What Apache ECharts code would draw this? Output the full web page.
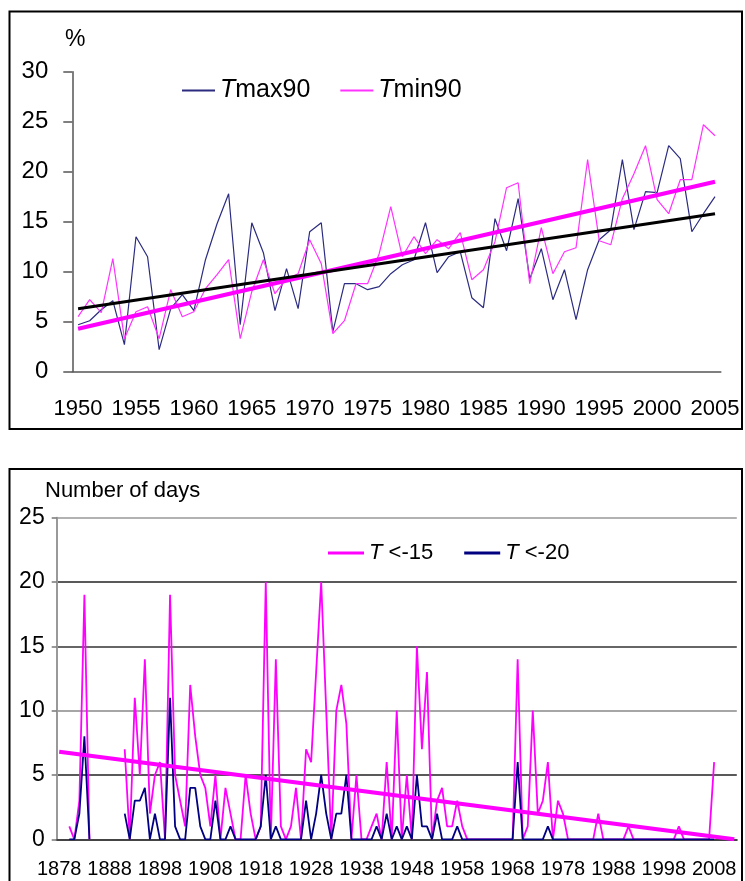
<!DOCTYPE html>
<html><head><meta charset="utf-8">
<script src="https://cdn.jsdelivr.net/npm/echarts@6/dist/echarts.min.js"></script>
<style>html,body{margin:0;padding:0;background:#fff}#c{width:745px;height:881px}</style>
</head><body><div id="c"></div>
<script>
// ---------- Top chart data ----------
const yearsTop = ['1950','1951','1952','1953','1954','1955','1956','1957','1958','1959',
  '1960','1961','1962','1963','1964','1965','1966','1967','1968','1969',
  '1970','1971','1972','1973','1974','1975','1976','1977','1978','1979',
  '1980','1981','1982','1983','1984','1985','1986','1987','1988','1989',
  '1990','1991','1992','1993','1994','1995','1996','1997','1998','1999',
  '2000','2001','2002','2003','2004','2005'];
const tmax90 = [4.7,5.1,6.2,7.1,2.7,13.5,11.5,2.2,6.3,7.7,
  6.1,11.2,14.8,17.8,4.7,14.9,11.9,6.1,10.3,6.3,
  14.0,14.9,4.0,8.8,8.8,8.2,8.5,9.8,10.7,11.2,
  14.9,9.9,11.5,12.0,7.4,6.4,15.3,12.1,17.3,9.3,
  12.3,7.2,10.2,5.2,10.2,13.2,14.2,21.2,14.2,18.0,
  17.9,22.6,21.3,14.0,15.8,17.5];
const tmin90 = [5.5,7.2,5.9,11.3,3.3,6.0,6.5,3.3,8.2,5.5,
  6.0,8.3,9.7,11.2,3.3,8.0,11.2,7.8,9.3,9.8,
  13.2,10.8,3.8,5.1,8.8,8.8,11.8,16.5,11.5,13.5,
  11.8,13.2,12.3,13.9,9.2,10.2,13.0,18.4,18.9,8.8,
  14.4,9.8,12.0,12.4,21.2,13.1,12.7,17.3,19.8,22.6,
  17.2,15.8,19.2,19.2,24.7,23.6];
const trendYearsTop = ['1950','2005'];
const trendTmax = [6.3, 15.8];
const trendTmin = [4.3, 19.0];
const topTickLabels = ['1950','1955','1960','1965','1970','1975','1980','1985','1990','1995','2000','2005'];

// ---------- Bottom chart data ----------
const yearsBottom = ['1878','1879','1880','1881','1882','1883','1884','1885','1886','1887',
  '1888','1889','1890','1891','1892','1893','1894','1895','1896','1897',
  '1898','1899','1900','1901','1902','1903','1904','1905','1906','1907',
  '1908','1909','1910','1911','1912','1913','1914','1915','1916','1917',
  '1918','1919','1920','1921','1922','1923','1924','1925','1926','1927',
  '1928','1929','1930','1931','1932','1933','1934','1935','1936','1937',
  '1938','1939','1940','1941','1942','1943','1944','1945','1946','1947',
  '1948','1949','1950','1951','1952','1953','1954','1955','1956','1957',
  '1958','1959','1960','1961','1962','1963','1964','1965','1966','1967',
  '1968','1969','1970','1971','1972','1973','1974','1975','1976','1977',
  '1978','1979','1980','1981','1982','1983','1984','1985','1986','1987',
  '1988','1989','1990','1991','1992','1993','1994','1995','1996','1997',
  '1998','1999','2000','2001','2002','2003','2004','2005','2006','2007',
  '2008','2009','2010','2011','2012'];
const daysBelow15 = [null,null,1,0,3,19,0,null,null,null,
  null,null,null,7,0,11,5,14,2,5,
  6,0,19,5,3,1,12,8,5,4,
  1,5,0,4,2,0,0,5,2,0,
  1,20,0,14,1,0,1,4,0,7,
  6,13,20,10,0,10,12,9,0,5,
  0,0,1,2,0,6,0,10,0,5,
  0,15,7,13,0,3,4,1,1,3,
  1,0,0,0,0,0,0,0,0,0,
  0,14,0,1,10,2,3,6,0,3,
  2,0,0,0,0,0,0,2,0,0,
  0,0,0,1,0,0,0,0,0,0,
  0,0,0,1,0,0,0,0,0,0,
  6,null,null,null,null];
const daysBelow20 = [null,null,0,0,2,8,0,null,null,null,
  null,null,null,2,0,3,3,4,0,2,
  0,0,11,1,0,0,4,4,1,0,
  0,3,0,0,1,0,0,0,0,0,
  1,5,0,1,0,0,0,0,0,3,
  0,2,5,2,0,2,2,5,0,0,
  0,0,0,1,0,2,0,1,0,1,
  0,5,1,1,0,2,0,0,0,1,
  0,0,0,0,0,0,0,0,0,0,
  0,6,0,0,0,0,0,1,0,0,
  0,0,0,0,0,0,0,0,0,0,
  0,0,0,0,0,0,0,0,0,0,
  0,0,0,0,0,0,0,0,0,0,
  0,null,null,null,null];
const trendYearsBottom = ['1878','2012'];
const trendBelow15 = [6.8, 0];
const bottomTickLabels = ['1878','1888','1898','1908','1918','1928','1938','1948','1958','1968','1978','1988','1998','2008'];

const FF = '"Liberation Sans", Arial, sans-serif';
const pair = (xs, ys) => xs.map((x, i) => [x, ys[i]]);

const chart = echarts.init(document.getElementById('c'), null, {renderer: 'canvas'});
chart.setOption({
  animation: false,
  backgroundColor: '#fff',
  textStyle: {fontFamily: FF},
  graphic: [
    {type: 'rect', shape: {x: 9.5, y: 11.5, width: 732.5, height: 417.5}, style: {fill: null, stroke: '#000', lineWidth: 2}, z: 0},
    {type: 'rect', shape: {x: 9.5, y: 469, width: 732.5, height: 430}, style: {fill: null, stroke: '#000', lineWidth: 2}, z: 0},
    {type: 'text', left: 65, top: 28, style: {text: '%', font: '23px ' + FF, fill: '#000'}},
    {type: 'text', left: 45, top: 480, style: {text: 'Number of days', font: '22px ' + FF, fill: '#000'}}
  ],
  legend: [
    {
      data: ['Tmax90', 'Tmin90'], left: 177, top: 73, icon: 'rect',
      itemWidth: 33, itemHeight: 2, itemGap: 30,
      formatter: n => '{i|T}' + n.slice(1),
      textStyle: {fontSize: 25, fontFamily: FF, color: '#000',
        rich: {i: {fontStyle: 'italic', fontSize: 25, fontFamily: FF, color: '#000'}}}
    },
    {
      data: ['T <-15', 'T <-20'], left: 323, top: 537, icon: 'rect',
      itemWidth: 36, itemHeight: 3, itemGap: 31,
      formatter: n => '{i|T}' + n.slice(1),
      textStyle: {fontSize: 22, fontFamily: FF, color: '#000',
        rich: {i: {fontStyle: 'italic', fontSize: 22, fontFamily: FF, color: '#000'}}}
    }
  ],
  grid: [
    {left: 72.3, top: 71.7, width: 648.5, height: 300},
    {left: 56.7, top: 517.7, width: 680.1, height: 321.6}
  ],
  xAxis: [
    {
      type: 'category', gridIndex: 0, data: yearsTop, boundaryGap: true,
      axisLine: {lineStyle: {color: '#555', width: 1.5}},
      axisTick: {interval: 4, length: 8, alignWithLabel: false, lineStyle: {color: '#555', width: 1.5}},
      axisLabel: {interval: 4, fontSize: 22, margin: 26, color: '#000', fontFamily: FF,
        formatter: v => topTickLabels.includes(v) ? v : ''},
      splitLine: {show: false}
    },
    {
      type: 'category', gridIndex: 1, data: yearsBottom, boundaryGap: true,
      axisLine: {lineStyle: {color: '#444', width: 2}},
      axisTick: {interval: 9, length: 6, alignWithLabel: false, lineStyle: {color: '#666', width: 1.5}},
      axisLabel: {interval: 9, fontSize: 20, margin: 20, color: '#000', fontFamily: FF,
        formatter: v => bottomTickLabels.includes(v) ? v : ''},
      splitLine: {show: false}
    }
  ],
  yAxis: [
    {
      type: 'value', gridIndex: 0, min: 0, max: 30, interval: 5,
      axisLine: {show: true, lineStyle: {color: '#555', width: 1.5}},
      axisTick: {show: true, length: 9, lineStyle: {color: '#555', width: 1.5}},
      axisLabel: {fontSize: 24, margin: 24, color: '#000', fontFamily: FF},
      splitLine: {show: false}
    },
    {
      type: 'value', gridIndex: 1, min: 0, max: 25, interval: 5,
      axisLine: {show: true, lineStyle: {color: '#999', width: 2}},
      axisTick: {show: true, length: 5, lineStyle: {color: '#777', width: 1.5}},
      axisLabel: {fontSize: 23, margin: 12, color: '#000', fontFamily: FF},
      splitLine: {show: true, lineStyle: {color: ['#444', '#222', '#888', '#333', '#222', '#999'], width: 1.5}}
    }
  ],
  series: [
    {name: 'Tmax90', type: 'line', xAxisIndex: 0, yAxisIndex: 0, data: tmax90, symbol: 'none',
      color: '#2b2b80', lineStyle: {width: 1.2, color: '#2b2b80'}, z: 3},
    {name: 'Tmin90', type: 'line', xAxisIndex: 0, yAxisIndex: 0, data: tmin90, symbol: 'none',
      color: '#ff33ff', lineStyle: {width: 1.2, color: '#ff33ff'}, z: 4},
    {name: 'Trend Tmin90', type: 'line', xAxisIndex: 0, yAxisIndex: 0, data: pair(trendYearsTop, trendTmin), symbol: 'none',
      lineStyle: {width: 4, color: '#ff00ff'}, z: 5},
    {name: 'Trend Tmax90', type: 'line', xAxisIndex: 0, yAxisIndex: 0, data: pair(trendYearsTop, trendTmax), symbol: 'none',
      lineStyle: {width: 3, color: '#000'}, z: 6},

    {name: 'T <-15', type: 'line', xAxisIndex: 1, yAxisIndex: 1, data: daysBelow15, symbol: 'none',
      color: '#ff00ff', lineStyle: {width: 1.8, color: '#ff00ff'}, connectNulls: false, z: 3},
    {name: 'T <-20', type: 'line', xAxisIndex: 1, yAxisIndex: 1, data: daysBelow20, symbol: 'none',
      color: '#000080', lineStyle: {width: 1.8, color: '#000080'}, connectNulls: false, z: 4},
    {name: 'Trend T <-15', type: 'line', xAxisIndex: 1, yAxisIndex: 1, data: pair(trendYearsBottom, trendBelow15), symbol: 'none',
      lineStyle: {width: 4, color: '#ff00ff'}, z: 5}
  ]
});
</script>
</body></html>
